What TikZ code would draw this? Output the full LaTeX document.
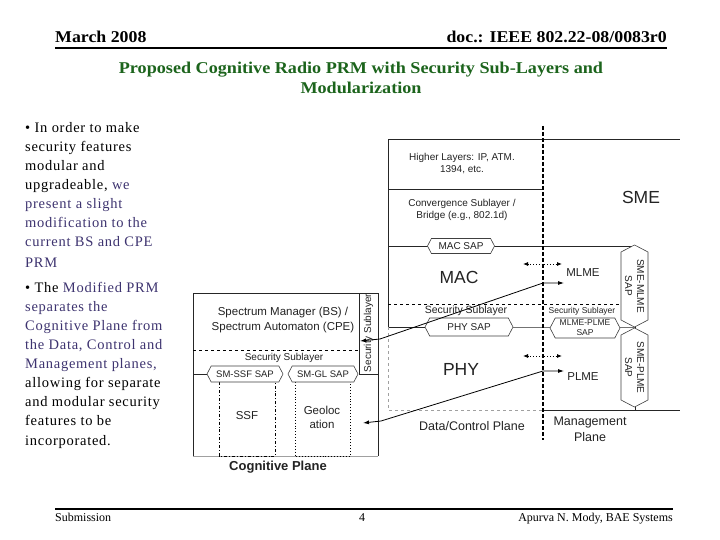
\documentclass[tikz,border=0pt]{standalone}
\usepackage{fontspec}
\setmainfont{Liberation Serif}
\setsansfont{Liberation Sans}
\newfontfamily\bulletfont[LetterSpace=5]{Liberation Serif}
\usetikzlibrary{arrows.meta,shapes.symbols}
\definecolor{titlegreen}{RGB}{28,100,28}
\definecolor{bulletblue}{RGB}{62,52,112}
\definecolor{dtxt}{RGB}{35,35,35}
\definecolor{lgray}{RGB}{160,160,160}
\tikzset{
  ln/.style={draw=black!85, line width=0.9pt},
  hdr/.style={font=\bfseries\fontsize{16.5}{18}\selectfont, inner sep=0pt},
  ttl/.style={font=\bfseries\fontsize{16.5}{19}\selectfont, text=titlegreen, anchor=base, inner sep=0pt},
  bl/.style={font=\bulletfont\fontsize{14.5}{19}\selectfont, inner sep=0pt, anchor=base west},
  dl/.style={font=\sffamily\fontsize{10}{12}\selectfont, text=dtxt, align=center, inner sep=0pt},
  big/.style={font=\sffamily\fontsize{17.5}{20}\selectfont, text=dtxt, inner sep=0pt},
  sap/.style={draw=black!75, fill=white, line width=0.6pt, signal, signal to=east and west, signal pointer angle=125, inner sep=0pt, font=\sffamily\fontsize{10}{12}\selectfont, text=dtxt, align=center},
  vsap/.style={draw=black!75, fill=white, line width=0.6pt, signal, signal to=north and south, signal pointer angle=125, inner sep=0pt},
  arr/.style={line width=0.8pt, {Latex[length=6pt,width=4pt]}-{Latex[length=6pt,width=4pt]}},
  darr/.style={line width=0.8pt, dotted, {Latex[length=5pt,width=4pt]}-{Latex[length=5pt,width=4pt]}},
}
\begin{document}
\begin{tikzpicture}[x=1pt,y=-1pt]
\useasboundingbox (0,0) rectangle (720,540);
\fill[white] (0,0) rectangle (720,540);

% header
\node[hdr, anchor=base west] (date) at (55,43) {\scalebox{1.08}[1]{March 2008}};
\node[hdr, anchor=base east] (doc) at (667,43) {\scalebox{1.08}[1]{doc.: IEEE 802.22-08/0083r0}};
\draw[line width=2pt] (55,48.5) -- (667,48.5);
\node[ttl] (t1) at (361,74) {\scalebox{1.1}[1]{Proposed Cognitive Radio PRM with Security Sub-Layers and}};
\node[ttl] (t2) at (361,94) {\scalebox{1.1}[1]{Modularization}};

% footer
\draw[line width=1.8pt] (55,509) -- (673,509);
\node[font=\fontsize{12}{14}\selectfont, anchor=base west, inner sep=0pt] (sub) at (55,521) {Submission};
\node[font=\fontsize{12}{14}\selectfont, anchor=base, inner sep=0pt] (pg) at (362,521) {4};
\node[font=\fontsize{12}{14}\selectfont, anchor=base east, inner sep=0pt] (auth) at (673,521) {Apurva N. Mody, BAE Systems};

% bullets
\node[bl] (b1) at (25,133) {\textbullet{} In order to make};
\node[bl] (b2) at (25,152) {security features};
\node[bl] (b3) at (25,171) {modular and};
\node[bl] (b4) at (25,190) {upgradeable, \textcolor{bulletblue}{we}};
\node[bl, text=bulletblue] (b5) at (25,209) {present a slight};
\node[bl, text=bulletblue] (b6) at (25,228) {modification to the};
\node[bl, text=bulletblue] (b7) at (25,247) {current BS and CPE};
\node[bl, text=bulletblue] (b8) at (25,267) {PRM};
\node[bl] (b9) at (25,292) {\textbullet{} The \textcolor{bulletblue}{Modified PRM}};
\node[bl, text=bulletblue] (b10) at (25,311) {separates the};
\node[bl, text=bulletblue] (b11) at (25,330) {Cognitive Plane from};
\node[bl, text=bulletblue] (b12) at (25,349) {the Data, Control and};
\node[bl, text=bulletblue] (b13) at (25,368) {Management planes,};
\node[bl] (b14) at (25,387) {allowing for separate};
\node[bl] (b15) at (25,406) {and modular security};
\node[bl] (b16) at (25,425) {features to be};
\node[bl] (b17) at (25,445) {incorporated.};

% ===== main stack =====
\draw[ln] (388,246) -- (388,139) -- (680,139);
\draw[ln] (388,189) -- (543,189);
\draw[ln] (388,327) -- (388,246) -- (635,246) -- (635,260);
\draw[line width=0.8pt, dashed] (388,304) -- (620,304);
\draw[ln] (388,327) -- (425,327);
\draw[line width=0.8pt, black!55] (513,327) -- (635,327);
\draw[ln] (635,315) -- (635,340);
\draw[line width=0.8pt, lgray, dashed] (388,327) -- (388,410) -- (543,410);
\draw[ln] (543,410) -- (680,410);
\draw[ln] (635,395) -- (635,410);

\coordinate (dtop) at (543,126);
\coordinate (dbot) at (543,440);
\draw[line width=2.2pt, dash pattern=on 4pt off 2pt] (dtop) -- (dbot);

\node[dl] (hl) at (462,164) {Higher Layers: IP, ATM.\\1394, etc.};
\node[dl] (cs) at (462,210) {Convergence Sublayer /\\Bridge (e.g., 802.1d)};
\node[big] (sme) at (641,197) {SME};

\node[sap, minimum width=67pt, minimum height=15pt] (macsap) at (461,246) {MAC SAP};
\node[big] (mac) at (459,277) {MAC};
\node[dl, font=\sffamily\fontsize{11.5}{13}\selectfont] (mlme) at (583,273) {MLME};
\node[dl, font=\sffamily\fontsize{10.5}{12}\selectfont] (secmac) at (466,311) {Security Sublayer};
\node[dl, font=\sffamily\fontsize{8.5}{10}\selectfont] (secmg) at (582,311) {Security Sublayer};
\node[sap, minimum width=88pt, minimum height=18pt] (physap) at (469,327) {PHY SAP};
\node[sap, minimum width=70pt, minimum height=20pt, font=\sffamily\fontsize{8.5}{10}\selectfont] (mpsap) at (585,328) {MLME-PLME\\SAP};
\node[vsap, minimum width=27pt, minimum height=68pt] (smlsap) at (634.5,286) {};
\node[dl, rotate=-90] (smlt) at (smlsap.center) {SME-MLME\\SAP};
\node[vsap, minimum width=27pt, minimum height=65pt] (splsap) at (634.5,367.5) {};
\node[dl, rotate=-90] (splt) at (splsap.center) {SME-PLME\\SAP};

\node[big] (phy) at (461,369) {PHY};
\node[dl, font=\sffamily\fontsize{11.5}{13}\selectfont] (plme) at (583,377) {PLME};
\node[dl, font=\sffamily\fontsize{12.5}{15}\selectfont] (dcp) at (472,426) {Data/Control Plane};
\node[dl, font=\sffamily\fontsize{12.5}{16}\selectfont] (mgp) at (590,429) {Management\\Plane};

\coordinate (d1a) at (523,264);
\coordinate (d1b) at (562,264);
\coordinate (d2a) at (523,356);
\coordinate (d2b) at (562,356);
\draw[darr] (d1a) -- (d1b);
\draw[darr] (d2a) -- (d2b);

% ===== cognitive plane =====
\draw[ln] (193,456) -- (193,293) -- (378,293) -- (378,456);
\draw[line width=0.9pt, lgray] (193,456) -- (378,456);
\draw[ln] (359,293) -- (359,374) -- (378,374);
\draw[line width=0.8pt, dashed] (193,350) -- (359,350);
\draw[ln] (193,374) -- (210,374);
\draw[line width=0.9pt, dash dot] (219,382) -- (219,456) -- (275,456) -- (275,382);
\draw[line width=0.9pt, dotted] (295,382) -- (295,456) -- (350,456) -- (350,382);
\node[sap, minimum width=76pt, minimum height=16pt, font=\sffamily\fontsize{9.5}{11}\selectfont] (ssfsap) at (245,374) {SM-SSF SAP};
\node[sap, minimum width=70pt, minimum height=16pt, font=\sffamily\fontsize{9.5}{11}\selectfont] (glsap) at (323,374) {SM-GL SAP};

\node[dl, font=\sffamily\fontsize{11.5}{15}\selectfont] (sm) at (283,320) {Spectrum Manager (BS) /\\Spectrum Automaton (CPE)};
\node[dl] (seccog) at (284,358) {Security Sublayer};
\node[dl, rotate=90] (seccol) at (368.5,333) {Security Sublayer};
\node[dl, font=\sffamily\fontsize{11.5}{14}\selectfont] (ssf) at (247,416) {SSF};
\node[dl, font=\sffamily\fontsize{11.5}{14}\selectfont] (geo) at (322,417) {Geoloc\\ation};
\node[font=\sffamily\bfseries\fontsize{13}{15}\selectfont, text=dtxt, inner sep=0pt] (cogp) at (278,467) {Cognitive Plane};

% long arrows
\coordinate (a1) at (360,341);
\coordinate (a1k) at (380,339);
\coordinate (a1m) at (543,283);
\coordinate (a1e) at (564,283);
\draw[arr] (a1) -- (a1k) -- (a1m) -- (a1e);
\coordinate (a2) at (363,423);
\coordinate (a2k) at (381,421);
\coordinate (a2m) at (543,371);
\coordinate (a2e) at (564,371);
\draw[arr] (a2) -- (a2k) -- (a2m) -- (a2e);
\end{tikzpicture}
\end{document}
